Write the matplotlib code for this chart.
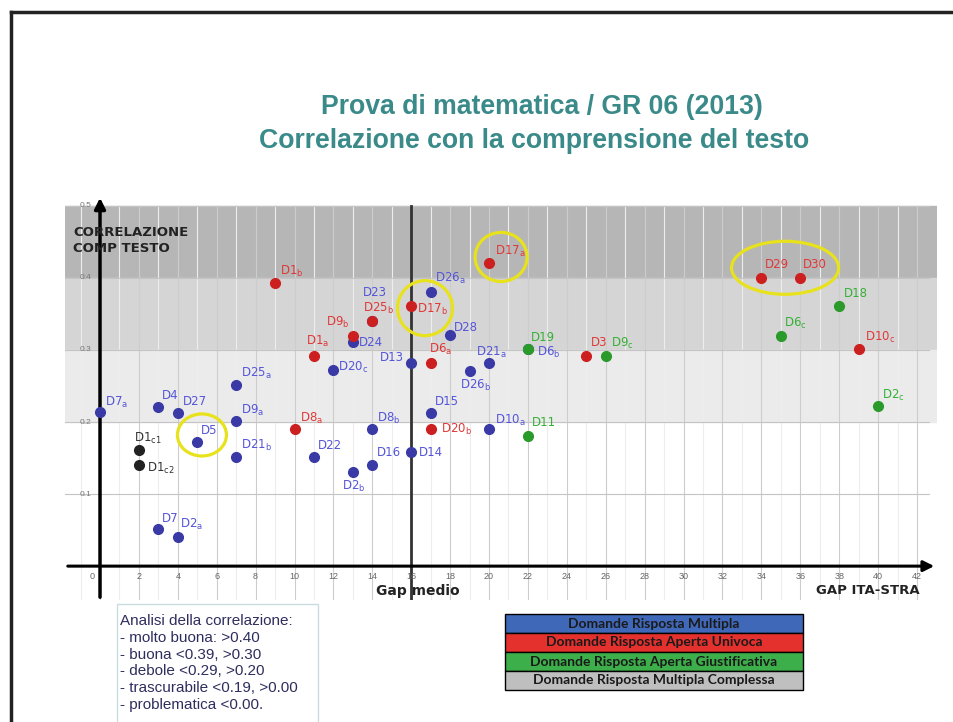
import matplotlib
matplotlib.use("Agg")
import matplotlib.pyplot as plt
from matplotlib.patches import Ellipse, Rectangle
from matplotlib.lines import Line2D

plt.rcParams['font.family'] = ['Liberation Sans', 'DejaVu Sans']
plt.rcParams['mathtext.fontset'] = 'dejavusans'


def sub(base, s=''):
    # label with upright subscript
    return base + (r'$_\mathrm{' + s + '}$' if s else '')


# Domande Risposta Multipla (blu)
blu_nomi = [sub('D7', 'a'), 'D4', 'D27', 'D5', sub('D25', 'a'), sub('D9', 'a'), sub('D21', 'b'),
            'D22', sub('D2', 'b'), sub('D20', 'c'), 'D24', 'D23', sub('D8', 'b'), 'D16', 'D14',
            'D13', sub('D26', 'a'), 'D28', sub('D26', 'b'), 'D15', sub('D21', 'a'), sub('D10', 'a'),
            sub('D6', 'b'), 'D7', sub('D2', 'a')]
blu_x = [0, 3, 4, 5, 7, 7, 7, 11, 13, 12, 13, 14, 14, 14, 16, 16, 17, 18, 19, 17, 20, 20, 22, 3, 4]
blu_y = [0.214, 0.221, 0.212, 0.172, 0.251, 0.201, 0.151, 0.151, 0.131, 0.272, 0.311, 0.34,
         0.19, 0.141, 0.158, 0.282, 0.381, 0.321, 0.271, 0.212, 0.282, 0.19, 0.301, 0.051, 0.040]
blu_off = [(5, 9), (4, 11), (5, 12), (4, 12), (5, 12), (5, 11), (5, 12), (4, 12), (-11, -15),
           (5, 3), (6, 0), (-9, 29), (5, 11), (5, 12), (8, 0), (-31, 5), (4, 13), (4, 7),
           (-10, -15), (4, 12), (-13, 10), (6, 9), (9, -3), (4, 11), (2, 13)]

# Domande Risposta Aperta Univoca (rosso)
rosso_nomi = [sub('D1', 'b'), sub('D1', 'a'), sub('D9', 'b'), sub('D25', 'b'), sub('D17', 'b'),
              sub('D17', 'a'), sub('D6', 'a'), sub('D8', 'a'), sub('D20', 'b'), 'D3', 'D29', 'D30',
              sub('D10', 'c')]
rosso_x = [9, 11, 13, 14, 16, 20, 17, 10, 17, 25, 34, 36, 39]
rosso_y = [0.393, 0.292, 0.32, 0.34, 0.361, 0.421, 0.282, 0.19, 0.19, 0.292, 0.40, 0.40, 0.301]
rosso_off = [(5, 11), (-8, 14), (-27, 13), (-9, 13), (6, -3), (6, 11), (-2, 13), (5, 11),
             (10, 0), (5, 13), (4, 13), (3, 13), (6, 12)]

# Domande Risposta Aperta Giustificativa (verde)
verde_nomi = ['D19', sub('D9', 'c'), 'D11', sub('D6', 'c'), 'D18', sub('D2', 'c')]
verde_x = [22, 26, 22, 35, 38, 40]
verde_y = [0.301, 0.292, 0.18, 0.32, 0.361, 0.222]
verde_off = [(3, 12), (5, 12), (4, 14), (3, 12), (5, 12), (4, 11)]

# Domande Risposta Multipla Complessa (nero)
nero_nomi = [sub('D1', 'c1'), sub('D1', 'c2')]
nero_x = [2, 2]
nero_y = [0.161, 0.140]
nero_off = [(-5, 12), (8, -3)]

x_ticks = list(range(0, 43, 2))
y_ticks = [0.1, 0.2, 0.3, 0.4, 0.5]

analisi = ['Analisi della correlazione:',
           '- molto buona: >0.40',
           '- buona <0.39, >0.30',
           '- debole <0.29, >0.20',
           '- trascurabile <0.19, >0.00',
           '- problematica <0.00.']

legenda = ['Domande Risposta Multipla',
           'Domande Risposta Aperta Univoca',
           'Domande Risposta Aperta Giustificativa',
           'Domande Risposta Multipla Complessa']
legenda_colori = ['#4068b8', '#e4312e', '#3caf4a', '#bfbfbf']

W, H = 954, 722
fig = plt.figure(figsize=(W / 100, H / 100), dpi=100)


def fx(p):
    return p / W


def fy(p):
    return 1 - p / H


# slide border (top and left)
fig.add_artist(Line2D([fx(11), fx(954)], [fy(12), fy(12)], color='#222222', lw=2.5))
fig.add_artist(Line2D([fx(11), fx(11)], [fy(12), fy(722)], color='#222222', lw=2.5))

# title
fig.text(fx(542), fy(107), 'Prova di matematica / GR 06 (2013)', ha='center', va='center',
         fontsize=19.2, fontweight='bold', color='#3b8a8a')
fig.text(fx(534), fy(141), 'Correlazione con la comprensione del testo', ha='center', va='center',
         fontsize=19.2, fontweight='bold', color='#3b8a8a')

ax = fig.add_axes([fx(65), 1 - 600 / H, 872 / W, 405 / H])
xmin, xmax = -1.8, 43.03
ymin, ymax = -0.047, 0.515
ax.set_xlim(xmin, xmax)
ax.set_ylim(ymin, ymax)
ax.axis('off')

ax.axhspan(0.4, 0.5, color='#b6b6b6', zorder=0)
ax.axhspan(0.3, 0.4, color='#d5d5d5', zorder=0)
ax.axhspan(0.2, 0.3, color='#ebebeb', zorder=0)
for xv in range(-1, 43):
    c = '#cdcdcd' if xv % 2 == 0 else '#ededed'
    ax.plot([xv, xv], [ymin, 0.5], color=c, lw=0.8, zorder=1)
for yv in y_ticks:
    ax.plot([xmin, 42.6], [yv, yv], color='#c4c4c4', lw=0.8, zorder=1)

ax.plot([16, 16], [ymin, 0.5], color='#333333', lw=2, zorder=2)
ax.annotate('', xy=(0, ymax), xytext=(0, ymin),
            arrowprops=dict(arrowstyle='-|>', lw=2.5, color='black', mutation_scale=16), zorder=3)
ax.annotate('', xy=(xmax, 0), xytext=(xmin, 0),
            arrowprops=dict(arrowstyle='-|>', lw=2.2, color='black', mutation_scale=16), zorder=3)

for xv in x_ticks:
    ax.text(-0.4 if xv == 0 else xv, -0.014, str(xv), ha='center', va='center',
            fontsize=6.5, color='#666666')
for yv in y_ticks:
    ax.text(-0.75, yv, f'{yv:.1f}', ha='center', va='center', fontsize=6, color='#777777')

fig.text(fx(73), fy(233), 'CORRELAZIONE', ha='left', va='center', fontsize=9.5,
         fontweight='bold', color='#222222', family='DejaVu Sans')
fig.text(fx(73), fy(248), 'COMP TESTO', ha='left', va='center', fontsize=9.5,
         fontweight='bold', color='#222222', family='DejaVu Sans')
fig.text(fx(418), fy(591), 'Gap medio', ha='center', va='center', fontsize=10,
         fontweight='bold', color='#222222', family='DejaVu Sans')
fig.text(fx(868), fy(591), 'GAP ITA-STRA', ha='center', va='center', fontsize=9.5,
         fontweight='bold', color='#222222', family='DejaVu Sans')

gruppi = [
    (blu_nomi, blu_x, blu_y, blu_off, '#3a3aa6', '#5555d8'),
    (rosso_nomi, rosso_x, rosso_y, rosso_off, '#cc2020', '#e03838'),
    (verde_nomi, verde_x, verde_y, verde_off, '#2a9a2a', '#36b036'),
    (nero_nomi, nero_x, nero_y, nero_off, '#222222', '#333333'),
]
for nomi, xs, ys, offs, col, tcol in gruppi:
    ax.plot(xs, ys, 'o', ms=7, color=col, mec=col, zorder=5, clip_on=False)
    for n, x, y, (dx, dy) in zip(nomi, xs, ys, offs):
        ax.annotate(n, (x, y), xytext=(dx * 0.72, dy * 0.72), textcoords='offset points',
                    ha='left', va='center', fontsize=8.5, color=tcol, zorder=6,
                    family='DejaVu Sans', annotation_clip=False)

# yellow highlight rings (pixel sizes converted to data units)
for cx, cy, w, h in [(5.24, 0.182, 49, 42), (16.71, 0.358, 55, 55),
                     (20.62, 0.429, 52, 49), (35.22, 0.414, 107, 53)]:
    ax.add_patch(Ellipse((cx, cy), w / 19.45, h / 720, fill=False, ec='#e8e21c',
                         lw=2.3, zorder=7))

# box with the analysis
fig.add_artist(Rectangle((fx(117), fy(725)), (318 - 117) / W, (725 - 604) / H,
                         fill=False, ec='#c9dde0', lw=1))
for i, riga in enumerate(analisi):
    fig.text(fx(120), fy(621 + 16.8 * i), riga, ha='left', va='center', fontsize=11,
             color='#2e2e5e')

# colour legend table
for i, (testo, col) in enumerate(zip(legenda, legenda_colori)):
    top = 614 + 19 * i
    fig.add_artist(Rectangle((fx(505), fy(top + 19)), (803 - 505) / W, 19 / H,
                             fc=col, ec='black', lw=1))
    fig.text(fx(654), fy(top + 9.5), testo, ha='center', va='center', fontsize=10,
             fontweight='bold', color='#1a1a1a', family=['Lato', 'DejaVu Sans'])

fig.savefig('out.png', dpi=100)
